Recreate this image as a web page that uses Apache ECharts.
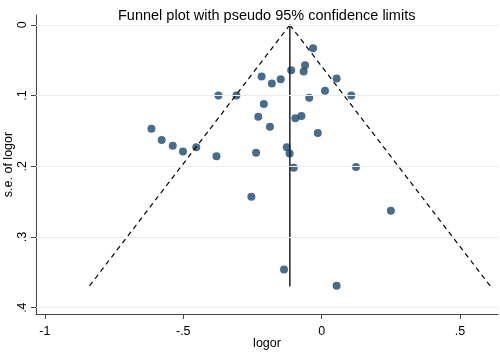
<!DOCTYPE html>
<html>
<head>
  <meta charset="utf-8" />
  <title>Funnel plot</title>
  <style>
    html, body { margin: 0; padding: 0; background: #fff; }
    #chart { width: 500px; height: 353px; }
  </style>
</head>
<body>
  <div id="chart"></div>
  <script src="https://cdn.jsdelivr.net/npm/echarts@6/dist/echarts.min.js"></script>
  <script>
    // study estimates (log odds ratio) and their standard errors
    var logor = [-0.031, -0.060, -0.065, -0.110, -0.217, -0.180, -0.148, 0.054, 0.012, 0.107,
                 -0.373, -0.308, -0.209, -0.045, -0.229, -0.187, -0.095, -0.073, -0.014, -0.615,
                 -0.578, -0.538, -0.501, -0.453, -0.380, -0.237, -0.126, -0.116, -0.101, 0.124,
                 -0.254, 0.250, -0.136, 0.054];
    var se = [0.033, 0.057, 0.066, 0.064, 0.073, 0.083, 0.077, 0.076, 0.093, 0.100,
              0.100, 0.100, 0.112, 0.103, 0.130, 0.144, 0.132, 0.129, 0.153, 0.147,
              0.163, 0.171, 0.179, 0.173, 0.186, 0.181, 0.173, 0.182, 0.202, 0.201,
              0.243, 0.263, 0.346, 0.369];

    var pooled = -0.115;   // fixed-effect estimate
    var maxSe = 0.37;      // funnel drawn down to this s.e.
    var z = 1.96;

    var xTicks = [-1, -0.5, 0, 0.5];
    var yTicks = [0, 0.1, 0.2, 0.3, 0.4];

    var points = logor.map(function (v, i) { return [v, se[i]]; });
    var leftLimit = [[pooled, 0], [pooled - z * maxSe, maxSe]];
    var rightLimit = [[pooled, 0], [pooled + z * maxSe, maxSe]];
    var centerLine = [[pooled, 0], [pooled, maxSe]];

    // stata style labels: .5 instead of 0.5
    function fmt(v) {
      if (v === 0) return '0';
      return String(v).replace('0.', '.');
    }

    var font = 'Liberation Sans, Arial, sans-serif';
    var axisColor = '#444';
    var chart = echarts.init(document.getElementById('chart'));
    var option = {
      animation: false,
      backgroundColor: '#fff',
      title: {
        text: 'Funnel plot with pseudo 95% confidence limits',
        left: 113,
        top: 3,
        textStyle: { fontFamily: font, fontSize: 14.5, fontWeight: 'normal', color: '#000' }
      },
      grid: { left: 36, right: 2, top: 15, bottom: 39, outerBoundsMode: 'none', containLabel: false },
      xAxis: {
        type: 'value',
        min: -1.032,
        max: 0.637,
        name: 'logor',
        nameLocation: 'middle',
        nameGap: 23,
        nameMoveOverlap: false,
        nameTextStyle: { fontFamily: font, fontSize: 12.5, color: '#000' },
        axisLine: { onZero: false, lineStyle: { color: axisColor, width: 1 } },
        axisTick: { show: true, length: 5, customValues: xTicks, lineStyle: { color: axisColor } },
        axisLabel: { customValues: xTicks, formatter: fmt, margin: 11,
          fontFamily: font, fontSize: 12.5, color: '#000' },
        splitLine: { show: false }
      },
      yAxis: {
        type: 'value',
        inverse: true,
        min: -0.014,
        max: 0.409,
        name: 's.e. of logor',
        nameLocation: 'middle',
        nameGap: 21,
        nameMoveOverlap: false,
        nameTextStyle: { fontFamily: font, fontSize: 12.5, color: '#000' },
        axisLine: { show: true, onZero: false, lineStyle: { color: axisColor, width: 1 } },
        axisTick: { show: true, length: 5, customValues: yTicks, lineStyle: { color: axisColor } },
        axisLabel: { customValues: yTicks, formatter: fmt, rotate: 90, margin: 7,
          fontFamily: font, fontSize: 12.5, color: '#000' },
        splitLine: { show: false }
      },
      series: [{
        // horizontal grid lines at the y ticks
        type: 'line',
        data: [],
        silent: true,
        markLine: {
          silent: true,
          symbol: 'none',
          label: { show: false },
          lineStyle: { color: '#e6eef1', type: 'solid', width: 1 },
          data: yTicks.map(function (t) { return { yAxis: t }; })
        }
      }, {
        type: 'line',
        data: leftLimit,
        symbol: 'none',
        lineStyle: { color: '#000', width: 1.2, type: [5, 4] }
      }, {
        type: 'line',
        data: rightLimit,
        symbol: 'none',
        lineStyle: { color: '#000', width: 1.2, type: [5, 4] }
      }, {
        type: 'line',
        data: centerLine,
        symbol: 'none',
        lineStyle: { color: '#222', width: 1.5 }
      }, {
        type: 'scatter',
        data: points,
        symbol: 'circle',
        symbolSize: 8,
        itemStyle: { color: '#1a476f' }
      }]
    };
    chart.setOption(option);
  </script>
</body>
</html>
